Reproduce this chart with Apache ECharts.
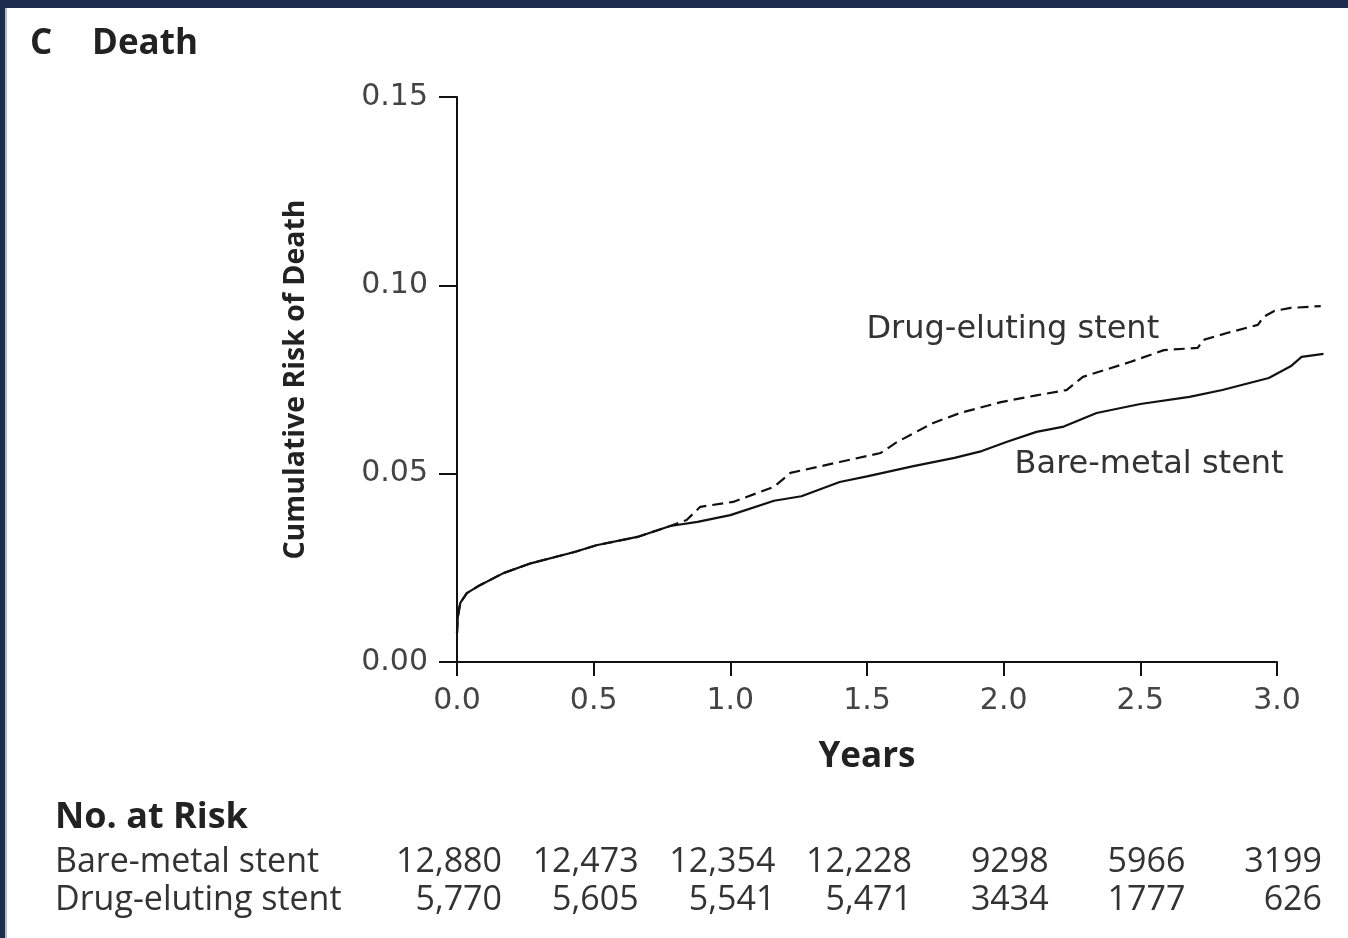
<!DOCTYPE html>
<html>
<head>
<meta charset="utf-8">
<script src="https://cdn.jsdelivr.net/npm/echarts@6/dist/echarts.min.js"></script>
<style>
html,body{margin:0;padding:0;background:#fff;}
#chart{width:1348px;height:938px;}
</style>
</head>
<body>
<div id="chart"></div>
<script>
// ---- Data ----
const xTicks = [0, 0.5, 1.0, 1.5, 2.0, 2.5, 3.0];
const yTicks = [0, 0.05, 0.10, 0.15];

// Bare-metal stent (solid)
const bmsTimes = [0.0, 0.003, 0.012, 0.036, 0.084, 0.17, 0.27, 0.43, 0.51, 0.66, 0.78, 0.88, 1.0, 1.16, 1.26, 1.40, 1.50, 1.67, 1.82, 1.92, 2.01, 2.12, 2.22, 2.34, 2.50, 2.68, 2.80, 2.97, 3.05, 3.09, 3.17];
const bmsRisk  = [0.0077, 0.012, 0.0157, 0.0183, 0.0204, 0.0236, 0.0262, 0.0292, 0.0310, 0.0332, 0.0361, 0.0372, 0.0390, 0.0428, 0.0440, 0.0478, 0.0493, 0.0520, 0.0542, 0.0560, 0.0584, 0.0611, 0.0625, 0.0661, 0.0685, 0.0704, 0.0722, 0.0754, 0.0785, 0.0810, 0.0818];

// Drug-eluting stent (dashed)
const desTimes = [0.0, 0.003, 0.012, 0.036, 0.084, 0.17, 0.27, 0.43, 0.51, 0.66, 0.78, 0.84, 0.89, 1.01, 1.16, 1.22, 1.40, 1.55, 1.61, 1.74, 1.84, 1.99, 2.12, 2.23, 2.29, 2.465, 2.586, 2.71, 2.73, 2.82, 2.93, 2.95, 2.99, 3.05, 3.16];
const desRisk  = [0.0077, 0.012, 0.0157, 0.0183, 0.0204, 0.0236, 0.0262, 0.0292, 0.0310, 0.0332, 0.0361, 0.0377, 0.0412, 0.0425, 0.0465, 0.0502, 0.0531, 0.0555, 0.0584, 0.0634, 0.0661, 0.0690, 0.0708, 0.0722, 0.0757, 0.0797, 0.0828, 0.0834, 0.0855, 0.0874, 0.0895, 0.0916, 0.0932, 0.0940, 0.0945];

// Number at risk
const riskRowLabels = ['Bare-metal stent', 'Drug-eluting stent'];
const bmsAtRisk = ['12,880', '12,473', '12,354', '12,228', '9298', '5966', '3199'];
const desAtRisk = ['5,770', '5,605', '5,541', '5,471', '3434', '1777', '626'];

const seriesNames = ['Bare-metal stent', 'Drug-eluting stent'];

// ---- Chart ----
const zip = (a, b) => a.map((v, i) => [v, b[i]]);
const chart = echarts.init(document.getElementById('chart'), null, {renderer: 'canvas'});
const tickFont = "'DejaVu Sans', sans-serif";
const boldFont = "'Open Sans', 'Noto Sans', sans-serif";

// axis (visible) spans 0..3 years; the curves continue a little past 3 years,
// so they are drawn on an overlapping grid with the same scale (0..3.2).
const X_AXIS_MAX = 3, X_DATA_MAX = 3.2;
const gridLeft = 457, gridRightEdge = 1277;
const pxPerYear = (gridRightEdge - gridLeft) / X_AXIS_MAX;
const dataRight = 1348 - (gridLeft + pxPerYear * X_DATA_MAX);

chart.setOption({
  animation: false,
  backgroundColor: '#ffffff',
  grid: [
    {left: gridLeft, top: 97, right: dataRight, bottom: 276, containLabel: false},
    {left: gridLeft, top: 97, right: 1348 - gridRightEdge, bottom: 276, containLabel: false}
  ],
  xAxis: [
    {gridIndex: 0, type: 'value', min: 0, max: X_DATA_MAX, show: false},
    {
      gridIndex: 1, type: 'value', min: 0, max: X_AXIS_MAX, interval: 0.5,
      name: 'Years', nameLocation: 'middle', nameGap: 78,
      nameTextStyle: {fontFamily: boldFont, fontWeight: 'bold', fontSize: 35, color: '#222'},
      axisLine: {show: true, onZero: false, lineStyle: {color: '#111', width: 2}},
      axisTick: {show: true, inside: false, length: 14, lineStyle: {color: '#111', width: 2}},
      axisLabel: {fontFamily: tickFont, fontSize: 30, color: '#444', margin: 24,
        formatter: v => v.toFixed(1)},
      splitLine: {show: false}
    }
  ],
  yAxis: [
    {gridIndex: 0, type: 'value', min: 0, max: 0.15, show: false},
    {
      gridIndex: 1, type: 'value', min: 0, max: 0.15, interval: 0.05,
      name: 'Cumulative Risk of Death', nameLocation: 'middle', nameGap: 147, nameRotate: 90,
      nameTextStyle: {fontFamily: boldFont, fontWeight: 'bold', fontSize: 28.5, color: '#222'},
      axisLine: {show: true, onZero: false, lineStyle: {color: '#111', width: 2}},
      axisTick: {show: true, inside: false, length: 18, lineStyle: {color: '#111', width: 2}},
      axisLabel: {fontFamily: tickFont, fontSize: 30, color: '#444', margin: 29,
        formatter: v => v.toFixed(2)},
      splitLine: {show: false}
    }
  ],
  series: [
    {name: seriesNames[0], type: 'line', xAxisIndex: 0, yAxisIndex: 0, data: zip(bmsTimes, bmsRisk),
      showSymbol: false, clip: false, lineStyle: {color: '#111', width: 2.2, type: 'solid'}},
    {name: seriesNames[1], type: 'line', xAxisIndex: 0, yAxisIndex: 0, data: zip(desTimes, desRisk),
      showSymbol: false, clip: false, lineStyle: {color: '#111', width: 2.2, type: [11, 6]}}
  ]
});

// ---- Annotations, title, risk table, frame ----
const px = (x, y) => chart.convertToPixel({gridIndex: 1}, [x, y]);
const graphics = [];
// frame
graphics.push({type: 'rect', shape: {x: 0, y: 0, width: 1348, height: 8}, style: {fill: '#1d2c4f'}, silent: true});
graphics.push({type: 'rect', shape: {x: 0, y: 0, width: 5, height: 938}, style: {fill: '#1d2c4f'}, silent: true});
graphics.push({type: 'rect', shape: {x: 5, y: 8, width: 2, height: 930}, style: {fill: '#b8bcc6'}, silent: true});
// panel title
graphics.push({type: 'text', x: 30, y: 44, style: {text: 'C', font: `bold 35px ${boldFont}`, fill: '#222', textVerticalAlign: 'middle'}});
graphics.push({type: 'text', x: 92, y: 44, style: {text: 'Death', font: `bold 35px ${boldFont}`, fill: '#222', textVerticalAlign: 'middle'}});
// curve labels
const pDes = px(1.498, 0.0881);
graphics.push({type: 'text', x: pDes[0], y: pDes[1], style: {text: seriesNames[1], font: `32px ${tickFont}`, fill: '#333', textVerticalAlign: 'middle'}});
const pBms = px(2.04, 0.0523);
graphics.push({type: 'text', x: pBms[0], y: pBms[1], style: {text: seriesNames[0], font: `32px ${tickFont}`, fill: '#333', textVerticalAlign: 'middle'}});
// risk table
const tableFont = "'Open Sans', 'Noto Sans', sans-serif";
graphics.push({type: 'text', x: 55, y: 818, style: {text: 'No. at Risk', font: `bold 36px ${tableFont}`, fill: '#222', textVerticalAlign: 'middle'}});
const rowY = [862, 900];
[bmsAtRisk, desAtRisk].forEach((row, r) => {
  graphics.push({type: 'text', x: 55, y: rowY[r], style: {text: riskRowLabels[r], font: `34px ${tableFont}`, fill: '#333', textVerticalAlign: 'middle'}});
  row.forEach((val, i) => {
    const p = px(xTicks[i], 0);
    graphics.push({type: 'text', x: p[0] + 45, y: rowY[r], style: {text: val, font: `34px ${tableFont}`, fill: '#333', textAlign: 'right', textVerticalAlign: 'middle'}});
  });
});
chart.setOption({graphic: graphics});
</script>
</body>
</html>
